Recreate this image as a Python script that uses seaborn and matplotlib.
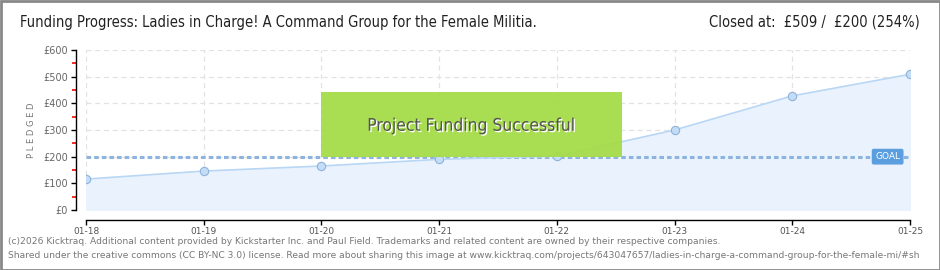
import matplotlib
matplotlib.use("Agg")
import matplotlib.pyplot as plt
import matplotlib.patheffects as pe
from matplotlib.patches import Rectangle
import seaborn as sns
import pandas as pd

dates = ["01-18", "01-19", "01-20", "01-21", "01-22", "01-23", "01-24", "01-25"]
pledged = [116, 146, 165, 190, 202, 300, 428, 509]
goal = 200
y_ticks = [0, 100, 200, 300, 400, 500, 600]
y_labels = ["£0", "£100", "£200", "£300", "£400", "£500", "£600"]
title = "Funding Progress: Ladies in Charge! A Command Group for the Female Militia."
status = "Closed at:  £509 /  £200 (254%)"
footer1 = "(c)2026 Kicktraq. Additional content provided by Kickstarter Inc. and Paul Field. Trademarks and related content are owned by their respective companies."
footer2 = "Shared under the creative commons (CC BY-NC 3.0) license. Read more about sharing this image at www.kicktraq.com/projects/643047657/ladies-in-charge-a-command-group-for-the-female-mi/#sh"

sns.set_theme(style="white")
plt.rcParams['font.family'] = ['DejaVu Sans']

df = pd.DataFrame({"idx": list(range(len(dates))), "pledged": pledged})

W, H = 940, 270
fig = plt.figure(figsize=(W/100, H/100), dpi=100)
fig.patch.set_facecolor("white")
ax = fig.add_axes([86/W, 1-210/H, (910-86)/W, (210-50)/H])
ax.set_facecolor("white")

ax.fill_between(df["idx"], 0, df["pledged"], color="#eaf3fd", zorder=1)
sns.lineplot(data=df, x="idx", y="pledged", ax=ax, color="#b9d7f4", linewidth=1.2,
             marker="o", markersize=6, markerfacecolor="#c4ddf7", markeredgecolor="#90b2d8",
             markeredgewidth=0.8, zorder=3)
ax.axhline(goal, color="#8db4e0", linewidth=2.2, linestyle=(0, (1.5, 1)), zorder=2)

ax.set_xlim(0, len(dates)-1)
ax.set_ylim(0, 600)
ax.set_xticks(range(len(dates)))
ax.set_xticklabels(dates)
ax.set_yticks(y_ticks)
ax.set_yticklabels(y_labels)
ax.set_yticks([50, 150, 250, 350, 450, 550], minor=True)
ax.tick_params(axis="y", which="major", direction="out", length=3.5, width=1, color="black",
               left=True, pad=2.5, labelsize=7, labelcolor="#666666")
ax.tick_params(axis="y", which="minor", direction="out", length=3, width=1.2, color="#ff0000", left=True)
ax.tick_params(axis="x", which="major", direction="out", length=3.5, width=1, color="black",
               bottom=True, pad=1.5, labelsize=6.5, labelcolor="#555555")
ax.grid(True, color="#e2e2e2", linestyle=(0, (4, 3)), linewidth=0.9)
ax.set_axisbelow(True)
for s in ["top", "right"]:
    ax.spines[s].set_visible(False)
ax.spines["left"].set_position(("outward", 7.2))
ax.spines["bottom"].set_position(("outward", 7.2))
for s in ["left", "bottom"]:
    ax.spines[s].set_color("black")
    ax.spines[s].set_linewidth(1)
ax.set_xlabel("")
ax.set_ylabel("P L E D G E D", fontsize=6, color="#777777", labelpad=5)

# success box
ax.add_patch(Rectangle((2, 200), 2.55, 242, facecolor="#a6dc4c", edgecolor="none", alpha=0.97, zorder=4))
ax.text(3.275, 316, "Project Funding Successful", ha="center", va="center", fontsize=12.5,
        color="#555555", zorder=5, fontstretch="condensed",
        path_effects=[pe.withSimplePatchShadow(offset=(1, -1), shadow_rgbFace="white", alpha=1)])

# goal label
ax.text(6.81, goal, "GOAL", ha="center", va="center", fontsize=6.5, color="white", zorder=6,
        bbox=dict(boxstyle="round,pad=0.3,rounding_size=0.15", facecolor="#5b9ee0", edgecolor="#5b9ee0"))

fig.text(20/W, 1-22/H, title, fontsize=10.5, color="#222222", va="center", ha="left", fontstretch="condensed")
fig.text(920/W, 1-22/H, status, fontsize=10.5, color="#222222", va="center", ha="right", fontstretch="condensed")
fig.text(8/W, 1-242/H, footer1, fontsize=6.6, color="#777777", va="center", ha="left")
fig.text(8/W, 1-255/H, footer2, fontsize=6.6, color="#777777", va="center", ha="left")

fig.patches.append(Rectangle((0.5/W, 0.5/H), 1-1/W, 1-1/H, transform=fig.transFigure,
                             fill=False, edgecolor="#888888", linewidth=2))

fig.savefig("out.png", dpi=100, facecolor="white")
